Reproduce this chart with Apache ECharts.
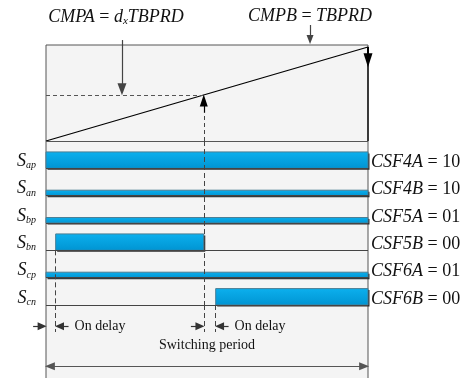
<!DOCTYPE html>
<html><head><meta charset="utf-8">
<script src="https://cdn.jsdelivr.net/npm/echarts@6/dist/echarts.min.js"></script>
<style>html,body{margin:0;padding:0;background:#fff}#c{width:462px;height:378px}</style>
</head><body><div id="c"></div>
<script>
// ---- data ----
const counterX = [0, 1, 1];          // fraction of switching period
const counterY = [0, 1, 0];          // counter / TBPRD
const dutyCMPA = 0.49;               // d_x = CMPA / TBPRD
const signalNames = ['ap', 'an', 'bp', 'bn', 'cp', 'cn'];
const csfRegisters = ['CSF4A', 'CSF4B', 'CSF5A', 'CSF5B', 'CSF6A', 'CSF6B'];
const csfCodes = ['10', '10', '01', '00', '01', '00'];
const segRow = [0, 1, 2, 3, 4, 5];
const segStart = [0, 0, 0, 0.03, 0, 0.527];
const segEnd = [1, 1, 1, 0.49, 1, 1];
const segLevel = [1, 0, 0, 1, 0, 1];
const delayFrom = [0, 0.49];
const delayTo = [0.03, 0.527];

// ---- style ----
const SERIF = 'Liberation Serif';
const HIGH_H = 0.6, LOW_H = 0.2;
const ink = '#333';
const tri = 'triangle';

const chart = echarts.init(document.getElementById('c'), null, {renderer: 'canvas'});

const mathRich = {
  i: {fontFamily: SERIF, fontStyle: 'italic', fontSize: 18, color: '#111'},
  n: {fontFamily: SERIF, fontSize: 18, color: '#111'},
  sub: {fontFamily: SERIF, fontStyle: 'italic', fontSize: 11, color: '#111', verticalAlign: 'bottom', padding: [8, 0, 0, 0]}
};

const rampMarks = [
  [{coord: [0, 0], lineStyle: {color: '#555', width: 1, type: 'solid'}}, {coord: [1, 0]}],
  [{coord: [0, dutyCMPA], lineStyle: {color: '#555', width: 1, type: [4, 3]}}, {coord: [dutyCMPA, dutyCMPA]}],
  [{coord: [0.236, 1.074], lineStyle: {color: '#444', width: 1.2, type: 'solid'},
    label: {show: true, position: 'start', distance: 13, offset: [-6, 0], formatter: '{i|CMPA}{n| = }{i|d}{sub|x}{i|TBPRD}', rich: mathRich}},
   {coord: [0.236, dutyCMPA + 0.06], symbol: tri, symbolSize: [9, 12]}],
  [{coord: [0.82, 1.234], lineStyle: {color: '#444', width: 1.2, type: 'solid'},
    label: {show: true, position: 'start', distance: 0, formatter: '{i|CMPB}{n| = }{i|TBPRD}', rich: mathRich}},
   {coord: [0.82, 1.08], symbol: tri, symbolSize: [7, 9]}],
  [{coord: [dutyCMPA, 0.3], lineStyle: {color: '#000', width: 1.2, type: 'solid'}}, {coord: [dutyCMPA, dutyCMPA - 0.06], symbol: tri, symbolSize: [8, 12]}],
  [{coord: [dutyCMPA, 0], lineStyle: {color: '#444', width: 1, type: [4, 3]}}, {coord: [dutyCMPA, 0.3]}],
  [{coord: [1, 1], lineStyle: {color: '#000', width: 2, type: 'solid'}}, {coord: [1, 0.86], symbol: tri, symbolSize: [9, 14]}]
];

const sigMarks = [];
for (let r = 1; r <= 6; r++) {
  sigMarks.push([{coord: [0, r], lineStyle: {color: '#444', width: 1.2, type: 'solid'}}, {coord: [1, r]}]);
}
sigMarks.push([{coord: [dutyCMPA, 0], lineStyle: {color: '#444', width: 1, type: [5, 3]}}, {coord: [dutyCMPA, 6]}]);
sigMarks.push([{coord: [segStart[3], segRow[3] + 1], lineStyle: {color: '#444', width: 1, type: [5, 3]}}, {coord: [segStart[3], 6]}]);

const annMarks = [];
const dashEnd = 0.37, arrY = 0.29, arrLen = 0.04;
[dutyCMPA, segStart[3], segStart[5]].forEach(x => {
  annMarks.push([{coord: [x, 0], lineStyle: {color: '#444', width: 1, type: [5, 3]}}, {coord: [x, dashEnd]}]);
});
for (let k = 0; k < delayFrom.length; k++) {
  annMarks.push([{coord: [delayFrom[k] - arrLen, arrY], lineStyle: {color: ink, width: 1.2, type: 'solid'}},
                 {coord: [delayFrom[k] - 0.012, arrY], symbol: tri, symbolSize: [8, 9]}]);
  annMarks.push([{coord: [delayTo[k] + arrLen, arrY], lineStyle: {color: ink, width: 1.2, type: 'solid'},
                  label: {show: true, position: 'start', distance: 6, formatter: 'On delay', fontFamily: SERIF, fontSize: 14, color: '#111'}},
                 {coord: [delayTo[k] + 0.012, arrY], symbol: tri, symbolSize: [8, 9]}]);
}
annMarks.push([{coord: [0.012, 0.84], symbol: tri, symbolSize: [8, 10], lineStyle: {color: '#555', width: 1.2, type: 'solid'},
                label: {show: true, position: 'insideMiddleTop', distance: 14, formatter: 'Switching period', fontFamily: SERIF, fontSize: 14, color: '#111'}},
               {coord: [0.988, 0.84], symbol: tri, symbolSize: [8, 10]}]);

const baseML = {silent: true, symbol: ['none', 'none'], label: {show: false}, animation: false, emphasis: {disabled: true}};

const option = {
  animation: false,
  grid: [
    {left: 46, top: 45, width: 322, height: 420, show: true, outerBoundsMode: 'none', backgroundColor: '#f4f4f4', borderColor: '#555', borderWidth: 1},
    {left: 46, top: 0, width: 322, height: 141, outerBoundsMode: 'none'},
    {left: 46, top: 141, width: 322, height: 164, outerBoundsMode: 'none'},
    {left: 0, top: 305, width: 462, height: 73, outerBoundsMode: 'none'}
  ],
  xAxis: [
    {gridIndex: 0, type: 'value', show: false, min: 0, max: 1},
    {gridIndex: 1, type: 'value', show: false, min: 0, max: 1},
    {gridIndex: 2, type: 'value', show: false, min: 0, max: 1},
    {gridIndex: 3, type: 'value', show: false, min: -46 / 322, max: 416 / 322}
  ],
  yAxis: [
    {gridIndex: 0, type: 'value', show: false, min: 0, max: 1},
    {gridIndex: 1, type: 'value', show: false, min: 0, max: 1.5},
    {gridIndex: 2, type: 'value', show: false, min: 0, max: 6, inverse: true},
    {gridIndex: 2, type: 'category', position: 'left', inverse: true,
     data: signalNames.map(s => '{s|S}{sub|' + s + '}'),
     axisLine: {show: false}, axisTick: {show: false}, splitLine: {show: false},
     axisLabel: {margin: 10, padding: [13, 0, 0, 0], rich: {
       s: {fontFamily: SERIF, fontStyle: 'italic', fontSize: 18, color: '#111'},
       sub: {fontFamily: SERIF, fontStyle: 'italic', fontSize: 10, color: '#111', verticalAlign: 'bottom', padding: [9, 0, 0, 0]}
     }}},
    {gridIndex: 2, type: 'category', position: 'right', inverse: true,
     data: csfRegisters.map((r, i) => '{i|' + r + '}{n| = ' + csfCodes[i] + '}'),
     axisLine: {show: false}, axisTick: {show: false}, splitLine: {show: false},
     axisLabel: {margin: 3, padding: [15, 0, 0, 0], rich: mathRich}},
    {gridIndex: 3, type: 'value', show: false, min: 0, max: 1, inverse: true}
  ],
  series: [
    {type: 'line', xAxisIndex: 1, yAxisIndex: 1, z: 4,
     data: counterX.map((x, i) => [x, counterY[i]]),
     symbol: 'none', lineStyle: {color: '#000', width: 1.3},
     markLine: Object.assign({}, baseML, {data: rampMarks})},
    {type: 'custom', xAxisIndex: 2, yAxisIndex: 2, z: 2, clip: false,
     data: segStart.map((s, i) => [s, segEnd[i], segRow[i], segLevel[i]]),
     encode: {x: [0, 1], y: 2},
     renderItem: function (params, api) {
       const x0 = api.value(0), x1 = api.value(1), row = api.value(2), lvl = api.value(3);
       const h = lvl ? HIGH_H : LOW_H;
       const p0 = api.coord([x0, row + 1 - h]);
       const p1 = api.coord([x1, row + 1]);
       const w = p1[0] - p0[0], hh = p1[1] - p0[1];
       return {type: 'group', children: [
         {type: 'rect', shape: {x: p0[0] + 1.5, y: p0[1] + 1.5, width: w, height: hh}, style: {fill: '#2e2e2e'}},
         {type: 'rect', shape: {x: p0[0], y: p0[1], width: w, height: hh},
          style: {fill: new echarts.graphic.LinearGradient(0, 0, 0, 1, [{offset: 0, color: '#0cb0ee'}, {offset: 1, color: '#0094d2'}]),
                  stroke: '#4a7d93', lineWidth: 1}}
       ]};
     }},
    {type: 'line', xAxisIndex: 2, yAxisIndex: 2, z: 5, data: [],
     markLine: Object.assign({}, baseML, {data: sigMarks})},
    {type: 'line', xAxisIndex: 3, yAxisIndex: 5, z: 5, data: [],
     markLine: Object.assign({}, baseML, {data: annMarks})}
  ]
};
chart.setOption(option);
</script>
</body></html>
